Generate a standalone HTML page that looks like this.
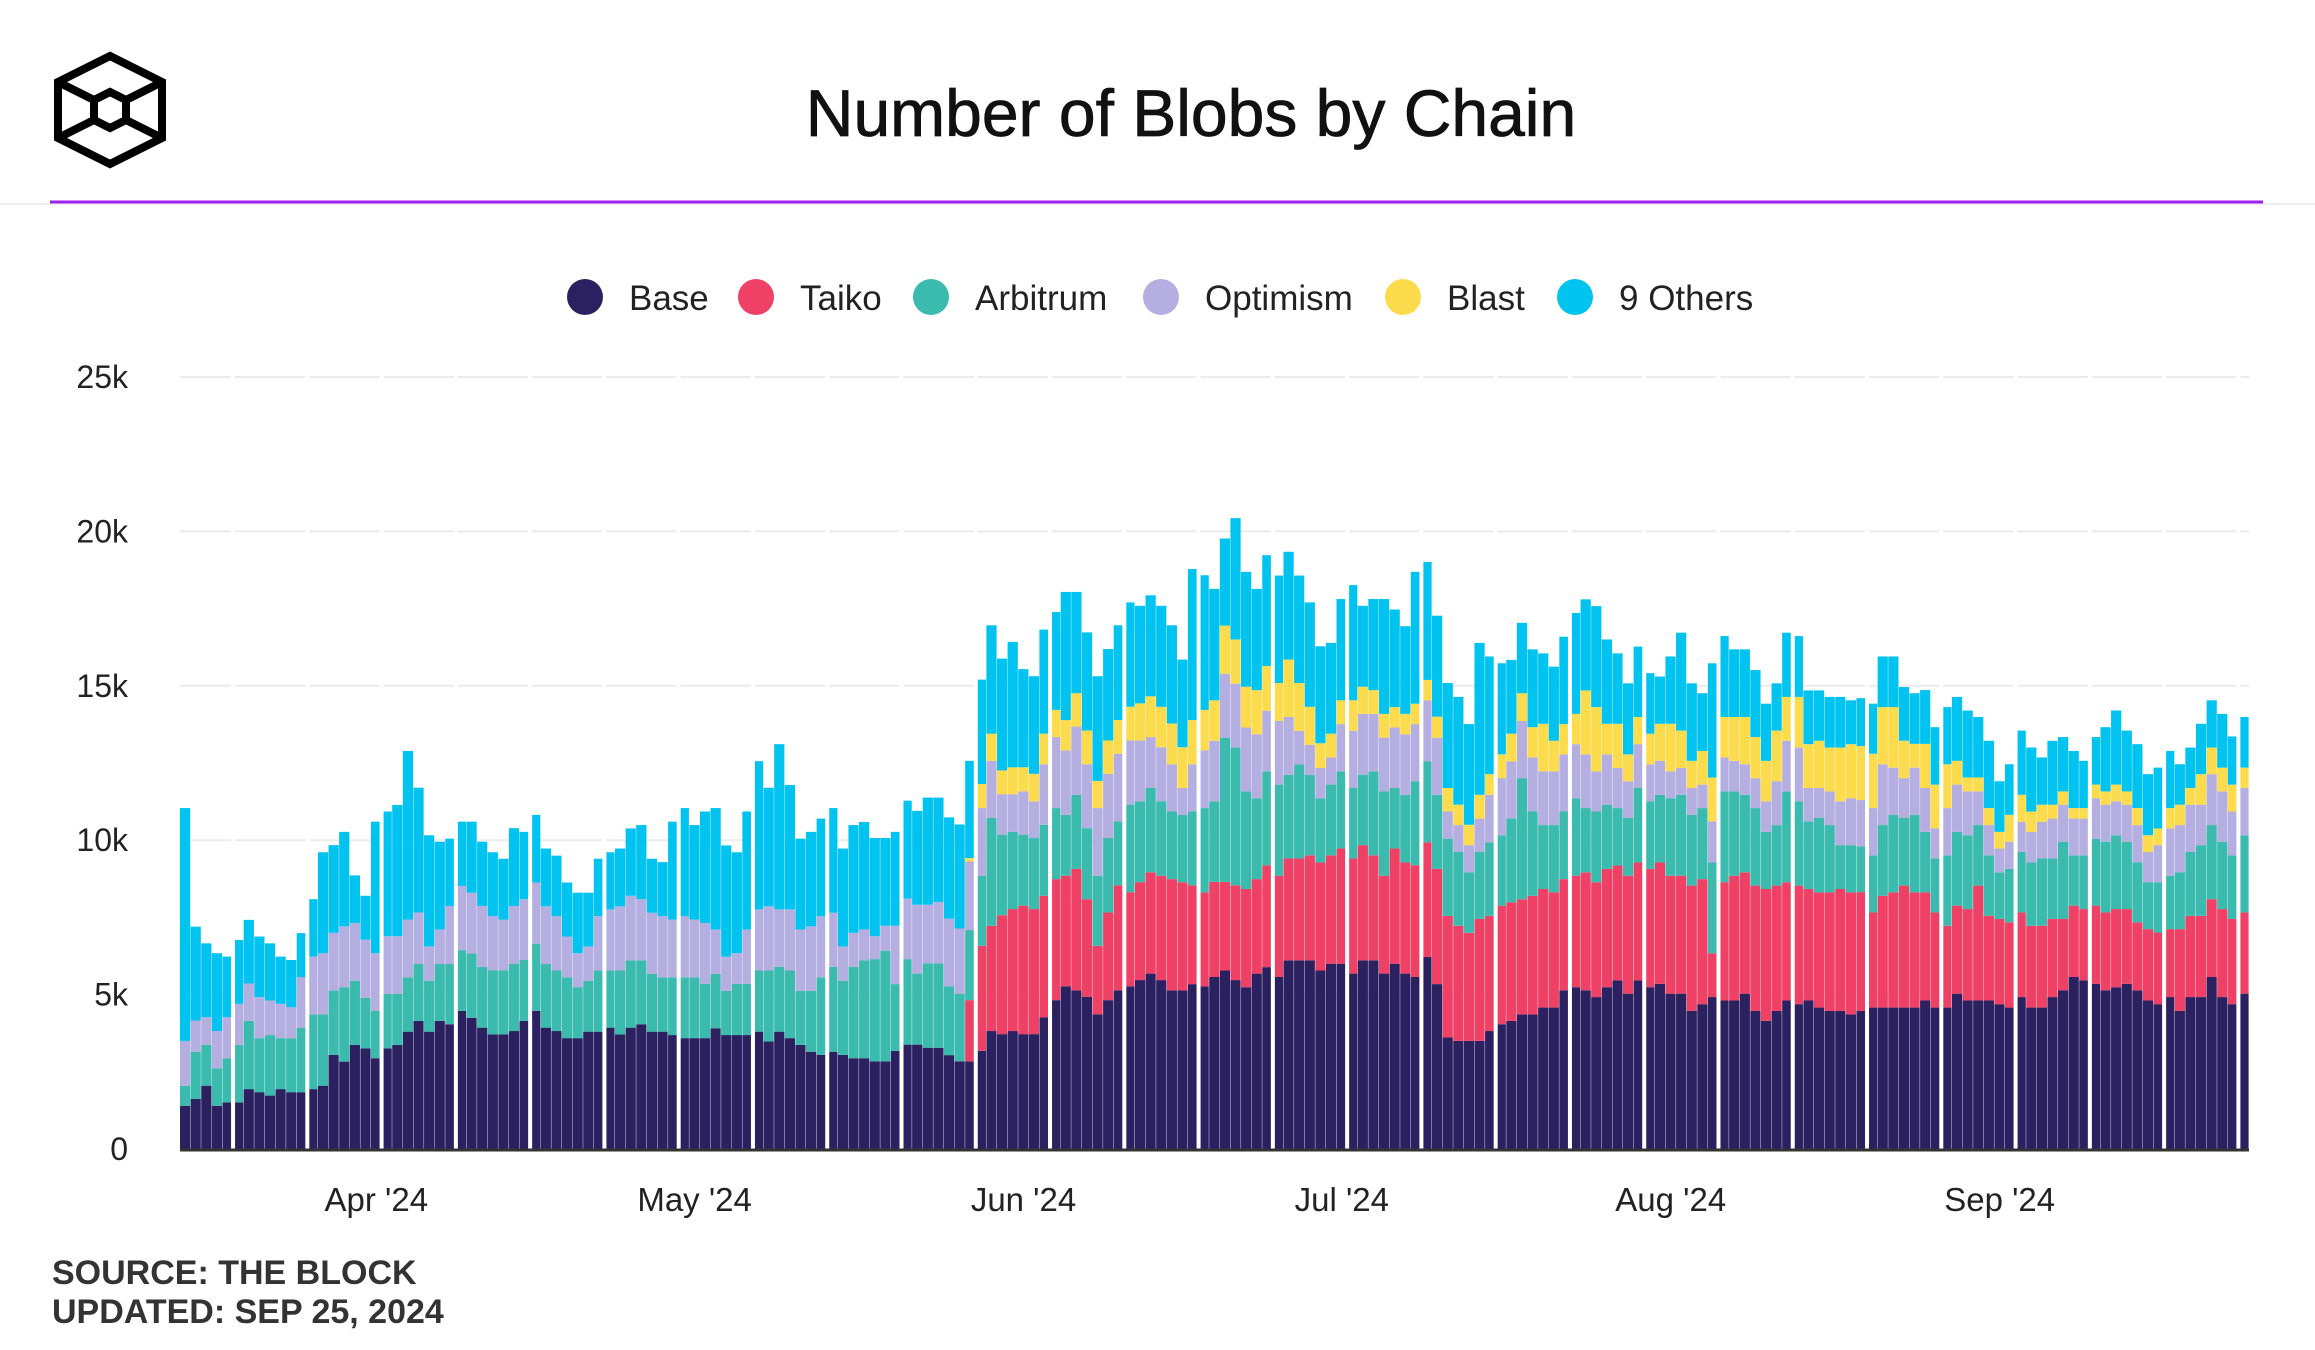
<!DOCTYPE html>
<html><head><meta charset="utf-8">
<style>
html,body{margin:0;padding:0;background:#fff;}
body{width:2315px;height:1350px;overflow:hidden;font-family:"Liberation Sans",sans-serif;}
svg{display:block;}
</style></head>
<body>
<svg id="chart" width="2315" height="1350" viewBox="0 0 2315 1350" xmlns="http://www.w3.org/2000/svg">
  <g fill="none" stroke="#000" stroke-width="8" stroke-linejoin="miter">
    <polygon points="110,56 162,82 162,138 110,164 58,138 58,82"/>
    <polygon points="110,92 126,100 126,120 110,128 94,120 94,100"/>
    <line x1="58" y1="82" x2="94" y2="100"/><line x1="162" y1="82" x2="126" y2="100"/>
    <line x1="58" y1="138" x2="94" y2="120"/><line x1="162" y1="138" x2="126" y2="120"/>
  </g>
  <text x="1191" y="136" text-anchor="middle" font-size="66" fill="#111" stroke="#111" stroke-width="0.8" font-family="Liberation Sans, sans-serif">Number of Blobs by Chain</text>
  <line x1="0" y1="204" x2="2315" y2="204" stroke="#eeeeee" stroke-width="2"/>
  <line x1="50" y1="202" x2="2263" y2="202" stroke="#a020f0" stroke-width="3"/>
  <g id="legend"></g>
  <g id="grid"></g>
  <g id="bars"></g>
  <g id="xaxis"></g>
  <g id="yaxis"></g>
  <text x="52" y="1284" font-size="34" font-weight="bold" fill="#333">SOURCE: THE BLOCK</text>
  <text x="52" y="1323" font-size="34" font-weight="bold" fill="#333">UPDATED: SEP 25, 2024</text>
</svg>
<script>
const seriesNames = ["Base","Taiko","Arbitrum","Optimism","Blast","9 Others"];
const seriesColors = ["#2b2160","#ef4066","#3bbbae","#b5aee0","#fcdc4d","#00c3f0"];
const yTicks = [0,5,10,15,20,25];
const yTickLabels = ["0","5k","10k","15k","20k","25k"];
const xTickIndex = [18,48,79,109,140,171];
const xTickLabels = ["Apr '24","May '24","Jun '24","Jul '24","Aug '24","Sep '24"];
const base = [1.40,1.62,2.05,1.40,1.51,
1.51,1.94,1.84,1.73,1.94,1.84,1.84,
1.94,2.05,3.05,2.83,3.37,3.26,2.94,
3.26,3.37,3.80,4.15,3.80,4.15,4.04,
4.47,4.25,3.93,3.71,3.71,3.82,4.15,
4.47,3.93,3.82,3.59,3.59,3.80,3.80,
3.93,3.71,3.93,4.04,3.80,3.80,3.69,
3.59,3.59,3.59,3.91,3.69,3.69,3.69,
3.80,3.48,3.80,3.59,3.37,3.15,3.05,
3.15,3.05,2.94,2.94,2.84,2.84,3.18,
3.38,3.38,3.28,3.28,3.04,2.84,2.84,
3.18,3.82,3.72,3.82,3.72,3.72,4.26,
4.82,5.27,5.14,4.93,4.36,4.82,5.14,
5.27,5.47,5.68,5.47,5.14,5.14,5.34,
5.27,5.57,5.78,5.47,5.24,5.68,5.89,
5.57,6.11,6.11,6.11,5.78,6.00,6.00,
5.68,6.11,6.11,5.68,6.00,5.68,5.57,
6.22,5.34,3.61,3.50,3.50,3.50,3.82,
4.04,4.15,4.36,4.36,4.58,4.58,5.14,
5.24,5.14,4.92,5.24,5.46,5.03,5.46,
5.24,5.35,5.03,5.03,4.47,4.69,4.92,
4.81,4.81,5.03,4.47,4.15,4.47,4.81,
4.69,4.81,4.58,4.47,4.47,4.36,4.47,
4.58,4.58,4.58,4.58,4.58,4.81,4.58,
4.58,5.03,4.81,4.81,4.81,4.69,4.58,
4.92,4.58,4.58,4.92,5.14,5.57,5.46,
5.35,5.14,5.24,5.35,5.14,4.81,4.69,
4.92,4.47,4.92,4.92,5.57,4.92,4.69,
5.03];
const taiko = [0,0,0,0,0,
0,0,0,0,0,0,0, 0,0,0,0,0,0,0, 0,0,0,0,0,0,0, 0,0,0,0,0,0,0,
0,0,0,0,0,0,0, 0,0,0,0,0,0,0, 0,0,0,0,0,0,0, 0,0,0,0,0,0,0,
0,0,0,0,0,0,0,
0,0,0,0,0,0,1.98,
3.40,3.41,3.85,3.95,4.16,4.05,3.94,
3.92,3.58,3.93,3.16,2.22,2.84,3.40,
3.04,3.17,3.28,3.38,3.60,3.50,3.20,
3.04,3.08,2.87,3.07,3.18,3.06,3.30,
3.28,3.30,3.30,3.40,3.50,3.51,3.73,
3.73,3.73,3.40,3.17,3.73,3.60,3.62,
3.71,3.73,3.94,3.73,3.50,3.95,3.73,
3.84,3.84,3.73,3.84,3.84,3.73,3.60,
3.61,3.82,3.72,3.83,3.72,3.82,3.82,
3.83,3.93,3.82,3.82,4.06,4.05,1.42,
3.83,4.04,3.93,4.06,4.27,4.06,3.83,
3.84,3.61,3.73,3.84,3.95,3.95,3.85,
3.08,3.62,3.73,3.95,3.73,3.50,3.08,
2.65,2.85,2.96,3.72,2.74,2.76,2.76,
2.74,2.65,2.65,2.53,2.31,2.31,2.31,
2.53,2.52,2.53,2.42,2.20,2.31,2.32,
2.20,2.65,2.63,2.63,2.52,2.85,2.76,
2.63];
const arbitrum = [0.65,1.53,1.32,1.21,1.43,
1.86,2.21,1.75,1.96,1.65,1.75,2.09,
2.42,2.31,2.08,2.41,2.08,1.64,1.53,
1.76,1.65,1.76,1.84,1.65,1.84,1.95,
1.97,2.08,1.97,2.08,2.08,2.18,1.97,
2.18,2.06,1.96,1.97,1.65,1.65,1.98,
1.85,2.07,2.18,2.07,1.87,1.76,1.87,
1.97,1.97,1.76,1.76,1.43,1.66,1.66,
1.98,2.30,2.10,2.19,1.75,1.97,2.51,
2.75,2.40,2.96,3.17,3.31,3.58,2.16,
2.77,2.30,2.73,2.73,2.23,2.19,2.27,
2.27,3.49,2.61,2.50,2.30,2.30,2.30,
2.30,1.97,2.40,2.30,2.27,2.41,2.07,
2.84,2.62,2.73,2.41,2.19,2.18,2.39,
2.73,2.61,4.67,4.46,3.16,2.62,3.04,
2.95,2.71,3.04,2.61,2.08,2.29,2.50,
2.28,2.28,2.72,2.73,1.96,2.19,2.72,
2.62,2.40,2.50,2.39,1.96,2.17,2.38,
2.28,2.71,3.92,2.73,2.07,2.18,2.19,
2.51,2.08,2.29,2.08,1.86,1.87,2.41,
2.19,2.19,2.51,2.62,2.29,2.30,2.94,
2.94,2.73,2.51,2.51,1.85,1.96,2.94,
2.73,2.19,2.41,2.18,1.42,1.53,1.48,
1.85,2.29,2.51,2.19,2.51,1.96,1.75,
2.28,2.39,2.39,1.96,1.96,1.51,1.73,
1.96,2.05,2.18,1.96,2.50,1.63,1.74,
2.17,2.29,2.39,2.18,1.94,1.52,1.63,
1.73,1.84,2.07,2.29,2.40,2.18,2.06,
2.50];
const optimism = [1.45,1.01,0.90,1.21,1.33,
1.33,1.21,1.33,1.12,1.11,1.00,1.64,
1.87,1.98,1.87,1.97,1.87,1.88,1.87,
1.87,1.87,1.87,1.67,1.11,1.12,1.88,
2.08,1.97,1.97,1.75,1.64,1.87,1.97,
1.98,1.87,1.76,1.32,1.10,1.11,1.76,
1.98,2.08,2.09,1.98,1.98,1.98,1.87,
1.98,1.87,1.97,1.44,1.11,0.99,1.76,
1.98,2.08,1.86,1.98,1.99,2.09,1.98,
1.75,1.11,1.10,1.00,0.74,0.81,1.89,
1.96,2.23,1.90,1.99,2.19,2.11,2.22,
2.19,1.85,1.31,1.22,1.40,1.19,1.96,
2.30,2.09,2.21,2.07,2.19,2.08,2.19,
2.08,1.97,1.65,1.75,1.53,0.87,1.53,
1.87,1.96,2.07,2.07,2.07,2.07,1.96,
2.06,1.87,1.09,0.97,0.98,0.88,1.53,
1.85,1.97,1.86,1.74,1.96,1.96,1.85,
1.98,1.85,0.88,0.87,0.88,1.08,1.54,
1.85,1.85,1.85,1.75,1.74,1.74,1.85,
1.75,1.74,1.30,1.63,1.30,1.19,1.42,
1.20,1.10,0.87,0.87,0.87,0.76,1.33,
1.10,0.99,0.99,0.97,0.99,1.42,1.64,
1.74,1.08,0.97,1.09,1.42,1.52,1.50,
1.53,1.97,1.53,1.29,1.53,1.42,0.97,
1.53,1.53,1.42,1.09,0.98,0.77,0.88,
0.97,0.99,1.18,1.29,1.20,1.19,1.19,
1.31,1.20,1.10,1.20,1.21,0.98,1.20,
1.53,1.53,1.53,1.31,1.65,1.63,1.42,
1.53];
const blast = [0,0,0,0,0,
0,0,0,0,0,0,0, 0,0,0,0,0,0,0, 0,0,0,0,0,0,0, 0,0,0,0,0,0,0,
0,0,0,0,0,0,0, 0,0,0,0,0,0,0, 0,0,0,0,0,0,0, 0,0,0,0,0,0,0,
0,0,0,0,0,0,0,
0,0,0,0,0,0,0.11,
0.78,0.88,0.77,0.87,0.78,0.89,0.99,
0.88,0.98,1.08,1.09,0.88,1.08,1.09,
1.09,1.20,1.32,1.31,1.32,1.32,1.43,
1.31,1.31,1.56,1.43,1.32,1.43,1.45,
1.23,1.86,1.55,1.23,0.80,0.77,0.77,
0.99,0.88,0.77,0.77,0.66,0.66,0.66,
0.66,0.68,0.76,0.66,0.66,0.77,0.67,
0.77,0.90,0.90,0.98,1.54,0.99,0.98,
0.98,2.07,2.08,0.99,1.43,0.87,0.88,
0.99,1.20,1.54,1.21,0.88,1.09,1.42,
1.31,1.42,1.53,1.33,1.31,1.64,1.42,
1.64,1.42,1.53,1.42,1.74,1.75,1.75,
1.76,1.85,1.96,1.21,0.77,1.43,1.42,
1.42,0.77,0.45,0.45,0.55,0.54,0.87,
0.88,0.66,0.56,0.45,0.43,0.34,0.34,
0.44,0.43,0.54,0.43,0.55,0.54,0.54,
0.66,0.66,0.54,0.99,0.86,0.77,0.87,
0.66];
const others = [7.54,3.04,2.39,2.52,1.96,
2.07,2.06,1.96,1.85,1.53,1.53,1.42,
1.86,3.27,2.84,3.06,1.54,1.42,4.26,
4.04,4.25,5.46,4.04,3.60,2.84,2.18,
2.08,2.30,2.08,2.07,1.97,2.52,2.18,
2.19,1.87,1.96,1.75,1.96,1.74,1.86,
1.85,1.87,2.18,2.40,1.75,1.75,3.17,
3.50,3.06,3.61,3.93,3.60,3.27,3.82,
4.80,3.84,5.35,4.03,2.94,3.06,3.16,
3.39,3.17,3.49,3.48,3.18,2.84,3.04,
3.17,3.04,3.47,3.38,3.28,3.37,3.15,
3.38,3.51,3.62,4.06,3.18,3.16,3.37,
3.17,4.15,3.28,3.18,3.39,2.96,3.07,
3.38,3.16,3.27,3.27,3.18,2.84,4.89,
4.36,3.61,2.82,3.93,3.72,3.28,3.59,
3.48,3.49,3.48,3.38,3.14,2.94,3.28,
3.73,2.62,2.95,3.72,3.16,2.84,4.27,
3.82,3.27,3.40,3.49,3.26,4.92,3.81,
2.95,2.39,2.28,2.52,2.28,2.40,2.83,
3.27,2.95,3.27,2.73,2.28,2.30,2.28,
1.96,1.53,2.18,3.17,2.51,1.87,3.70,
2.62,2.19,2.19,2.17,1.85,1.53,2.08,
1.97,1.74,1.63,1.64,1.64,1.42,1.55,
1.62,1.64,1.64,1.74,1.64,1.74,1.86,
1.85,2.07,2.17,1.96,2.18,1.64,1.64,
2.08,2.07,1.53,2.07,1.76,1.85,1.53,
1.54,2.08,2.40,1.97,2.07,1.98,1.97,
1.85,1.31,1.31,1.63,1.53,1.74,1.56,
1.64];

const NS = "http://www.w3.org/2000/svg";
const series = [base, taiko, arbitrum, optimism, blast, others];
const nBars = base.length;
const plotL = 180, plotR = 2249, plotB = 1149, plotT = 377, yMax = 25;
const bw = (plotR - plotL) / nBars;
function xPos(i){ return plotL + i * bw; }
function yPos(v){ return plotB - (v / yMax) * (plotB - plotT); }
function mk(tag, attrs, parent){
  const e = document.createElementNS(NS, tag);
  for (const k in attrs) e.setAttribute(k, attrs[k]);
  parent.appendChild(e);
  return e;
}

// legend
const legend = document.getElementById('legend');
const legendX = [585, 756, 931, 1161, 1403, 1575];
seriesNames.forEach((n, s) => {
  const g = mk('g', {}, legend);
  
  
  mk('circle', {cx: legendX[s], cy: 297, r: 18, fill: seriesColors[s]}, g);
  const t = mk('text', {x: legendX[s] + 44, y: 310, 'font-size': 35, fill: '#222'}, g);
  t.textContent = n;
});

// grid + y axis
const grid = document.getElementById('grid');
const yaxis = document.getElementById('yaxis');
yTicks.forEach((v, k) => {
  if (v > 0) {
    const l = mk('line', {x1: plotL, x2: plotR, y1: yPos(v), y2: yPos(v), stroke: '#ebebeb', 'stroke-width': 2}, grid);
    
    
  }
  const t = mk('text', {x: 128, y: yPos(v) + 11, 'text-anchor': 'end', 'font-size': 32, fill: '#222'}, yaxis);
  
  
  t.textContent = yTickLabels[k];
});

// bars
const bars = document.getElementById('bars');
for (let i = 0; i < nBars; i++) {
  const g = mk('g', {}, bars);
  
  
  let cum = 0;
  for (let s = 0; s < series.length; s++) {
    const v = series[s][i];
    if (!v) continue;
    const y0 = yPos(cum), y1 = yPos(cum + v);
    const r = mk('rect', {x: xPos(i), y: y1, width: bw - 0.4, height: y0 - y1, fill: seriesColors[s]}, g);
    
    
    cum += v;
  }
}
// weekly separators
for (let b = 5; b < nBars; b += 7) {
  const sep = mk('rect', {x: xPos(b) - 2, y: plotT - 20, width: 4, height: plotB - plotT + 20, fill: '#ffffff'}, bars);
  
  
}

// x axis
const xaxis = document.getElementById('xaxis');
const ax = mk('line', {x1: plotL, x2: plotR, y1: plotB + 1, y2: plotB + 1, stroke: '#333', 'stroke-width': 3}, xaxis);


xTickIndex.forEach((idx, k) => {
  const t = mk('text', {x: xPos(idx) + bw / 2, y: 1211, 'text-anchor': 'middle', 'font-size': 33, fill: '#222'}, xaxis);
  
  
  t.textContent = xTickLabels[k];
});
</script>
</body></html>
